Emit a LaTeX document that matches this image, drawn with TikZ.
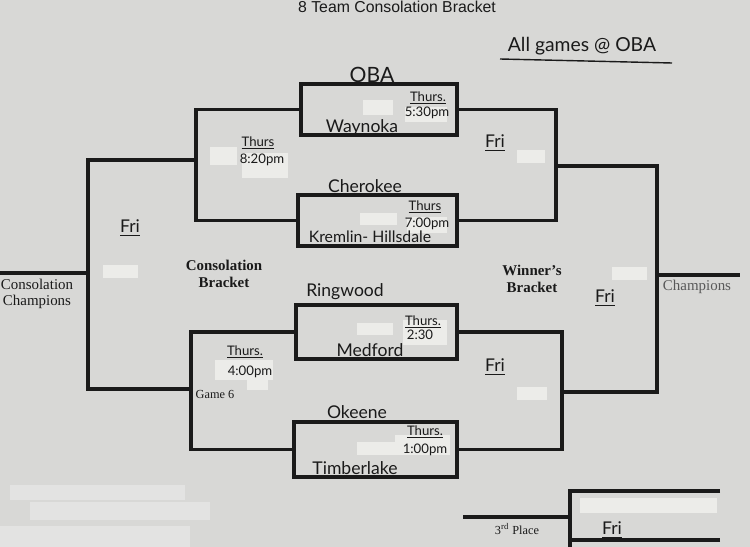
\documentclass[tikz,border=0pt]{standalone}
\usepackage{fontspec}
\setmainfont{Liberation Serif}
\newfontfamily\handfont{Lato}
\newfontfamily\headfont{Liberation Sans}
\definecolor{paper}{HTML}{D8D8D6}
\definecolor{tapewhite}{HTML}{ECECE9}
\definecolor{ink}{HTML}{1A1A1A}

\begin{document}
\begin{tikzpicture}[x=0.02cm, y=-0.02cm, line width=2.2pt, ink,
    game/.style={draw, line width=2.5pt, inner sep=0pt},
    tape/.style={fill=tapewhite, draw=none},
    hand/.style={font=\handfont\fontsize{10}{11}\selectfont},
    small/.style={font=\handfont\fontsize{7.5}{8}\selectfont},
    print/.style={font=\fontsize{8.5}{9.5}\selectfont, align=center}]
    \useasboundingbox (0,0) rectangle (750,547);
    \fill[paper] (0,0) rectangle (750,547);
    \fill[white, opacity=0.3] (10,485) rectangle (185,500);
    \fill[white, opacity=0.3] (30,502) rectangle (210,520);
    \fill[white, opacity=0.3] (0,526) rectangle (190,547);

    \fill[tape] (363,100) rectangle (393,115);
    \fill[tape] (405,107) rectangle (447,122);
    \fill[tape] (210,147) rectangle (237,165);
    \fill[tape] (242,153) rectangle (288,178);
    \fill[tape] (360,213) rectangle (397,225);
    \fill[tape] (407,217) rectangle (447,233);
    \fill[tape] (103,265) rectangle (138,278);
    \fill[tape] (517,150) rectangle (545,163);
    \fill[tape] (612,267) rectangle (647,280);
    \fill[tape] (357,323) rectangle (393,335);
    \fill[tape] (403,320) rectangle (447,345);
    \fill[tape] (215,360) rectangle (273,380);
    \fill[tape] (247,378) rectangle (268,390);
    \fill[tape] (517,387) rectangle (547,400);
    \fill[tape] (357,442) rectangle (395,455);
    \fill[tape] (395,435) rectangle (450,455);
    \fill[tape] (580,498) rectangle (717,513);

    \node[game, minimum width=3.12cm, minimum height=1.02cm] (g1) at (379,109.5) {};
    \node[game, minimum width=3.18cm, minimum height=1.02cm] (g2) at (377.5,220.5) {};
    \node[game, minimum width=3.22cm, minimum height=1.08cm] (g3) at (376.5,332) {};
    \node[game, minimum width=3.26cm, minimum height=1.10cm] (g4) at (375.5,449.5) {};

    \coordinate (c1) at (196,160);
    \coordinate (c2) at (191,389);
    \coordinate (c3) at (88,273);
    \coordinate (cc) at (0,273);
    \coordinate (w1) at (556,166);
    \coordinate (w2) at (562,392);
    \coordinate (w3) at (657,275);
    \coordinate (wc) at (740,275);
    \draw (g1.west) -| (c1) |- (g2.west);
    \draw (g3.west) -| (c2) |- (g4.west);
    \draw (c1) -| (c3) |- (c2);
    \draw (c3) -- (cc);
    \draw (g1.east) -| (w1) |- (g2.east);
    \draw (g3.east) -| (w2) |- (w2 |- g4.east) -- (g4.east);
    \draw (w1) -| (w3) |- (w2);
    \draw (w3) -- (wc);

    \coordinate (p1) at (463,517);
    \coordinate (p2) at (570,517);
    \coordinate (p3) at (720,491);
    \coordinate (p4) at (720,540);
    \coordinate (p5) at (570,550);
    \draw (p1) -- (p2);
    \draw (p3) -| (p5);
    \draw (p4) -- (p4 -| p2);

    \node[anchor=base, font=\headfont\fontsize{9}{10}\selectfont] (title) at (397,13) {8 Team Consolation Bracket};
    \node[hand, font=\handfont\fontsize{11}{12}\selectfont] (note) at (582,46) {All games @ OBA};
    \draw[line width=0.8pt] (500,59) -- (672,63);

    \node[hand, font=\handfont\fontsize{12}{13}\selectfont] (oba) at (372,75) {OBA};
    \node[small] (t1a) at (428,98) {\underline{Thurs.}};
    \node[small] (t1b) at (427,113) {5:30pm};
    \node[hand] (way) at (362,128) {Waynoka};
    \node[small] (t5a) at (258,143) {\underline{Thurs}};
    \node[small] (t5b) at (262,160) {8:20pm};
    \node[hand] (che) at (365,186) {Cherokee};
    \node[small] (t2a) at (425,207) {\underline{Thurs}};
    \node[small] (t2b) at (427,224) {7:00pm};
    \node[hand, font=\handfont\fontsize{9}{10}\selectfont] (kre) at (370,237) {Kremlin- Hillsdale};
    \node[hand] (fri1) at (130,228) {\underline{Fri}};
    \node[hand] (fri2) at (495,143) {\underline{Fri}};

    \node[print, font=\bfseries\fontsize{8.5}{9.5}\selectfont] (cbr) at (224,274) {Consolation\\Bracket};
    \node[print] (cch) at (37,294) {Consolation\\Champions};
    \node[print, font=\bfseries\fontsize{8.5}{9.5}\selectfont] (wbr) at (532,279) {Winner's\\Bracket};
    \node[print, text=black!65] (champ) at (697,287) {Champions};
    \node[hand] (fri3) at (605,298) {\underline{Fri}};

    \node[hand] (rin) at (345,292) {Ringwood};
    \node[small] (t3a) at (423,322) {\underline{Thurs.}};
    \node[small] (t3b) at (420,335) {2:30};
    \node[hand] (med) at (370,350) {Medford};
    \node[hand] (fri4) at (495,367) {\underline{Fri}};
    \node[small] (t6a) at (245,352) {\underline{Thurs.}};
    \node[small] (t6b) at (250,372) {4:00pm};
    \node[print, font=\fontsize{7}{8}\selectfont] (game6) at (215,394) {Game 6};

    \node[hand] (oke) at (357,412) {Okeene};
    \node[small] (t4a) at (425,432) {\underline{Thurs.}};
    \node[small] (t4b) at (425,450) {1:00pm};
    \node[hand] (tim) at (355,468) {Timberlake};

    \node[print, font=\fontsize{7}{8}\selectfont] (third) at (517,529) {3\textsuperscript{rd} Place};
    \node[hand] (fri5) at (612,530) {\underline{Fri}};
\end{tikzpicture}
\end{document}
